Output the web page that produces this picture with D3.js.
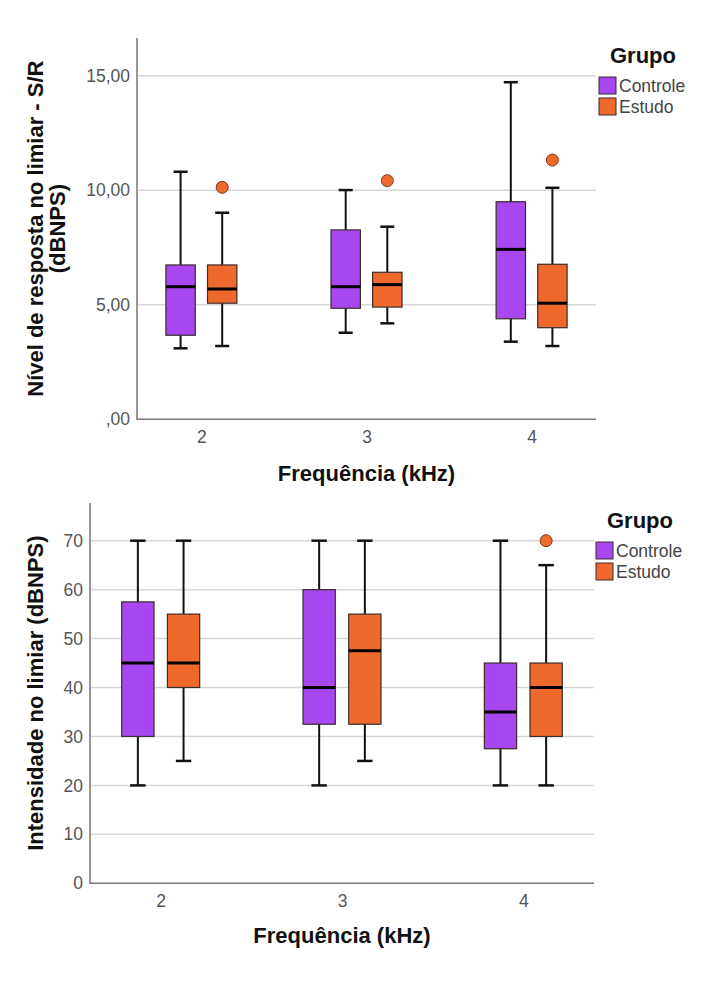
<!DOCTYPE html>
<html>
<head>
<meta charset="utf-8">
<script src="https://cdn.jsdelivr.net/npm/d3@7"></script>
<style>
  body { margin: 0; background: #fff; }
  svg { display: block; font-family: "Liberation Sans", Arial, sans-serif; }
</style>
</head>
<body>
<div id="chart"></div>
<script>
// categories and groups
const categories = ["2", "3", "4"];
const groups = ["Controle", "Estudo"];
const groupColors = ["#a846ef", "#f0692c"];

// panel 1: Nível de resposta no limiar - S/R  [low, q1, median, q3, high]
const srControle = [
  [3.10, 3.67, 5.79, 6.74, 10.81],
  [3.78, 4.85, 5.79, 8.27, 10.01],
  [3.39, 4.39, 7.42, 9.50, 14.72]
];
const srEstudo = [
  [3.20, 5.07, 5.69, 6.74, 9.02],
  [4.19, 4.90, 5.88, 6.42, 8.41],
  [3.20, 4.00, 5.07, 6.77, 10.11]
];
const srOutliers = [
  { cat: "2", group: "Estudo", value: 10.13 },
  { cat: "3", group: "Estudo", value: 10.42 },
  { cat: "4", group: "Estudo", value: 11.32 }
];
const srTicks = [0, 5, 10, 15];
const srTickLabels = [",00", "5,00", "10,00", "15,00"];

// panel 2: Intensidade no limiar (dBNPS)
const intControle = [
  [20, 30, 45, 57.5, 70],
  [20, 32.5, 40, 60, 70],
  [20, 27.5, 35, 45, 70]
];
const intEstudo = [
  [25, 40, 45, 55, 70],
  [25, 32.5, 47.5, 55, 70],
  [20, 30, 40, 45, 65]
];
const intOutliers = [
  { cat: "4", group: "Estudo", value: 70 }
];
const intTicks = [0, 10, 20, 30, 40, 50, 60, 70];
const intTickLabels = ["0", "10", "20", "30", "40", "50", "60", "70"];

const width = 707, height = 1000;
const svg = d3.select("#chart").append("svg")
  .attr("width", width)
  .attr("height", height);

function drawPanel(cfg) {
  const {
    left, right, top, bottom, yMax,
    controle, estudo, outliers, ticks, tickLabels,
    yTitle, yTitleX, xTitleY, legendX, legendY
  } = cfg;

  const g = svg.append("g");

  const x = d3.scalePoint()
    .domain(categories)
    .range([left, right])
    .padding(0.39);
  const step = x.step();

  const y = d3.scaleLinear()
    .domain([0, yMax])
    .range([bottom, top]);

  const boxW = step * 0.178;
  const offset = step * 0.126;
  const capW = step * 0.085;

  // gridlines
  g.append("g")
    .selectAll("line")
    .data(ticks.filter(t => t > 0))
    .join("line")
    .attr("x1", left).attr("x2", right)
    .attr("y1", d => y(d)).attr("y2", d => y(d))
    .attr("stroke", "#d6d6d6")
    .attr("stroke-width", 1.5);

  // axes
  const yAxis = d3.axisLeft(y)
    .tickValues(ticks)
    .tickSize(0)
    .tickPadding(7)
    .tickFormat((d, i) => tickLabels[i]);
  const yg = g.append("g")
    .attr("transform", `translate(${left},0)`)
    .call(yAxis);
  yg.select(".domain").remove();
  yg.selectAll("text")
    .attr("font-size", 17.5)
    .attr("fill", "#555")
    .attr("font-family", "Liberation Sans, Arial, sans-serif");

  const xAxis = d3.axisBottom(x).tickSize(0).tickPadding(11);
  const xg = g.append("g")
    .attr("transform", `translate(0,${bottom})`)
    .call(xAxis);
  xg.select(".domain").remove();
  xg.selectAll("text")
    .attr("font-size", 17.5)
    .attr("fill", "#555")
    .attr("font-family", "Liberation Sans, Arial, sans-serif");

  g.append("path")
    .attr("d", `M${left},${top}V${bottom}H${right}`)
    .attr("fill", "none")
    .attr("stroke", "#777")
    .attr("stroke-width", 1.5);

  // boxes
  const series = [controle, estudo];
  series.forEach((stats, gi) => {
    const dx = gi === 0 ? -offset : offset;
    const bg = g.append("g");
    const items = stats.map((s, i) => ({ cat: categories[i], s }));

    const cell = bg.selectAll("g")
      .data(items)
      .join("g")
      .attr("transform", d => `translate(${x(d.cat) + dx},0)`);

    // whiskers
    cell.append("line")
      .attr("x1", 0).attr("x2", 0)
      .attr("y1", d => y(d.s[4])).attr("y2", d => y(d.s[3]))
      .attr("stroke", "#111").attr("stroke-width", 2);
    cell.append("line")
      .attr("x1", 0).attr("x2", 0)
      .attr("y1", d => y(d.s[1])).attr("y2", d => y(d.s[0]))
      .attr("stroke", "#111").attr("stroke-width", 2);
    cell.append("line")
      .attr("x1", -capW / 2).attr("x2", capW / 2)
      .attr("y1", d => y(d.s[4])).attr("y2", d => y(d.s[4]))
      .attr("stroke", "#111").attr("stroke-width", 2.5);
    cell.append("line")
      .attr("x1", -capW / 2).attr("x2", capW / 2)
      .attr("y1", d => y(d.s[0])).attr("y2", d => y(d.s[0]))
      .attr("stroke", "#111").attr("stroke-width", 2.5);

    cell.append("rect")
      .attr("x", -boxW / 2)
      .attr("width", boxW)
      .attr("y", d => y(d.s[3]))
      .attr("height", d => y(d.s[1]) - y(d.s[3]))
      .attr("fill", groupColors[gi])
      .attr("stroke", "#3b2b2b")
      .attr("stroke-width", 1.2);

    cell.append("line")
      .attr("x1", -boxW / 2).attr("x2", boxW / 2)
      .attr("y1", d => y(d.s[2])).attr("y2", d => y(d.s[2]))
      .attr("stroke", "#000").attr("stroke-width", 3);
  });

  // outliers
  g.append("g")
    .selectAll("circle")
    .data(outliers)
    .join("circle")
    .attr("cx", d => x(d.cat) + (d.group === "Controle" ? -offset : offset))
    .attr("cy", d => y(d.value))
    .attr("r", 6)
    .attr("fill", d => groupColors[groups.indexOf(d.group)])
    .attr("stroke", "#7a3a1c")
    .attr("stroke-width", 1);

  // axis titles
  const yt = g.append("text")
    .attr("transform", `translate(${yTitleX},${(top + bottom) / 2}) rotate(-90)`)
    .attr("text-anchor", "middle")
    .attr("font-size", 22)
    .attr("font-weight", "bold")
    .attr("fill", "#111");
  yTitle.forEach((line, i) => {
    yt.append("tspan")
      .attr("x", 0)
      .attr("dy", i === 0 ? 0 : 22)
      .text(line);
  });

  g.append("text")
    .attr("x", (left + right) / 2)
    .attr("y", xTitleY)
    .attr("text-anchor", "middle")
    .attr("font-size", 22)
    .attr("font-weight", "bold")
    .attr("fill", "#111")
    .text("Frequência (kHz)");

  // legend
  const lg = g.append("g").attr("transform", `translate(${legendX},${legendY})`);
  lg.append("text")
    .attr("x", 11)
    .attr("y", 0)
    .attr("font-size", 22)
    .attr("font-weight", "bold")
    .attr("fill", "#111")
    .text("Grupo");
  groups.forEach((grp, i) => {
    lg.append("rect")
      .attr("x", 0)
      .attr("y", 14 + i * 21)
      .attr("width", 17)
      .attr("height", 17)
      .attr("fill", groupColors[i])
      .attr("stroke", "#3b2b2b")
      .attr("stroke-width", 1);
    lg.append("text")
      .attr("x", 20)
      .attr("y", 29 + i * 21)
      .attr("font-size", 17.5)
      .attr("fill", "#444")
      .text(grp);
  });
}

drawPanel({
  left: 137, right: 596, top: 38, bottom: 419.3, yMax: 16.65,
  controle: srControle, estudo: srEstudo, outliers: srOutliers,
  ticks: srTicks, tickLabels: srTickLabels,
  yTitle: ["Nível de resposta no limiar - S/R", "(dBNPS)"],
  yTitleX: 43, xTitleY: 481,
  legendX: 599, legendY: 63
});

drawPanel({
  left: 90, right: 594, top: 503, bottom: 883.3, yMax: 77.7,
  controle: intControle, estudo: intEstudo, outliers: intOutliers,
  ticks: intTicks, tickLabels: intTickLabels,
  yTitle: ["Intensidade no limiar (dBNPS)"],
  yTitleX: 43, xTitleY: 943,
  legendX: 596, legendY: 528
});
</script>
</body>
</html>
